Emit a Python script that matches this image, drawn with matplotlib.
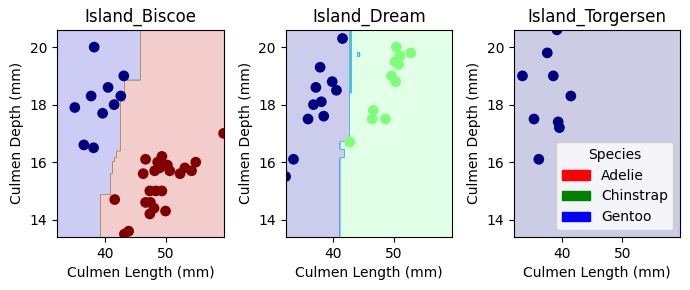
import numpy as np
import matplotlib
matplotlib.use('Agg')
import matplotlib.pyplot as plt
import matplotlib.patches as mpatches

# plotting range (min / max of culmen length and depth)
x_min, x_max = 32.1, 59.6
y_min, y_max = 13.4, 20.6
h = 0.02

islands = ['Island_Biscoe', 'Island_Dream', 'Island_Torgersen']

# points per island: culmen length, culmen depth, class (0 Adelie, 1 Chinstrap, 2 Gentoo)
biscoe_len = [38.2, 43.1, 40.5, 37.7, 42.6, 41.5, 35.0, 39.6, 36.5, 38.1,
              59.6, 46.7, 49.4, 48.7, 50.3, 46.3, 48.2, 50.7, 52.4, 53.2,
              54.3, 55.0, 49.0, 47.4, 48.4, 49.4, 46.7, 47.5, 48.1, 47.4,
              50.0, 41.6, 43.9, 43.2]
biscoe_dep = [20.0, 19.0, 18.6, 18.3, 18.3, 18.0, 17.9, 17.7, 16.6, 16.5,
              17.0, 16.1, 16.2, 16.0, 15.9, 15.6, 15.7, 15.7, 15.6, 15.8,
              15.7, 16.0, 15.8, 15.0, 15.0, 15.0, 14.6, 14.6, 14.4, 14.2,
              14.3, 14.7, 13.6, 13.5]
biscoe_cls = [0] * 10 + [2] * 24

dream_len = [41.5, 37.8, 39.8, 40.5, 37.1, 38.0, 36.7, 38.4, 35.8, 33.4, 32.1,
             42.7, 50.4, 52.8, 51.0, 50.2, 50.8, 49.6, 50.3, 46.6, 46.4, 48.6]
dream_dep = [20.3, 19.3, 18.8, 18.5, 18.6, 18.1, 18.0, 17.6, 17.5, 16.1, 15.5,
             16.7, 20.0, 19.8, 19.7, 19.5, 19.4, 19.0, 18.8, 17.8, 17.5, 17.5]
dream_cls = [0] * 11 + [1] * 11

torgersen_len = [39.2, 37.6, 33.5, 38.6, 41.5, 35.4, 39.4, 39.6, 36.2]
torgersen_dep = [20.6, 19.8, 19.0, 19.0, 18.3, 17.5, 17.4, 17.2, 16.1]
torgersen_cls = [0] * 9

# predicted regions: background class, then boxes (x0, x1, y0, y1, class)
biscoe_bg = 2
biscoe_boxes = [(30, 39.3, 13.0, 14.87, 0), (30, 40.9, 14.87, 15.6, 0),
                (30, 41.3, 15.6, 16.03, 0), (30, 41.6, 16.03, 16.16, 0),
                (30, 41.9, 16.16, 16.38, 0), (30, 42.6, 16.38, 18.12, 0),
                (30, 43.2, 18.12, 18.84, 0), (30, 45.8, 18.84, 21.0, 0)]
dream_bg = 1
dream_boxes = [(30, 41.1, 13.0, 16.7, 0), (41.1, 41.9, 16.15, 16.45, 0),
               (30, 42.6, 16.7, 18.4, 0), (30, 43.0, 18.4, 21.0, 0),
               (42.7, 42.8, 18.45, 21.0, 1),
               (43.95, 44.4, 19.66, 19.8, 0)]
torgersen_bg = 0
torgersen_boxes = []

points = [(biscoe_len, biscoe_dep, biscoe_cls),
          (dream_len, dream_dep, dream_cls),
          (torgersen_len, torgersen_dep, torgersen_cls)]
regions = [(biscoe_bg, biscoe_boxes), (dream_bg, dream_boxes),
           (torgersen_bg, torgersen_boxes)]

xx, yy = np.meshgrid(np.arange(x_min, x_max + h / 2, h),
                     np.arange(y_min, y_max + h / 2, h))

fig, axes = plt.subplots(1, 3, figsize=(6.9, 2.9), dpi=100)
fig.subplots_adjust(left=0.083, right=0.986, top=0.897, bottom=0.183, wspace=0.373)

for ax, name, (px, py, pc), (bg, boxes) in zip(axes, islands, points, regions):
    Z = np.full(xx.shape, float(bg))
    for x0, x1, y0, y1, c in boxes:
        Z[(xx >= x0) & (xx < x1) & (yy >= y0) & (yy < y1)] = c
    ax.contourf(xx, yy, Z, cmap='jet', alpha=0.2, vmin=0, vmax=2)
    ax.scatter(px, py, c=pc, cmap='jet', vmin=0, vmax=2, s=45)
    ax.set_title(name)
    ax.set_xlabel('Culmen Length (mm)')
    ax.set_ylabel('Culmen Depth (mm)')
    ax.set_xticks([40, 50])
    ax.set_yticks([14, 16, 18, 20])
    ax.set_xlim(x_min, x_max)
    ax.set_ylim(y_min, y_max)

handles = [mpatches.Patch(color='red', label='Adelie'),
           mpatches.Patch(color='green', label='Chinstrap'),
           mpatches.Patch(color='blue', label='Gentoo')]
axes[2].legend(handles=handles, title='Species', loc='lower right')

plt.savefig('out.png')
